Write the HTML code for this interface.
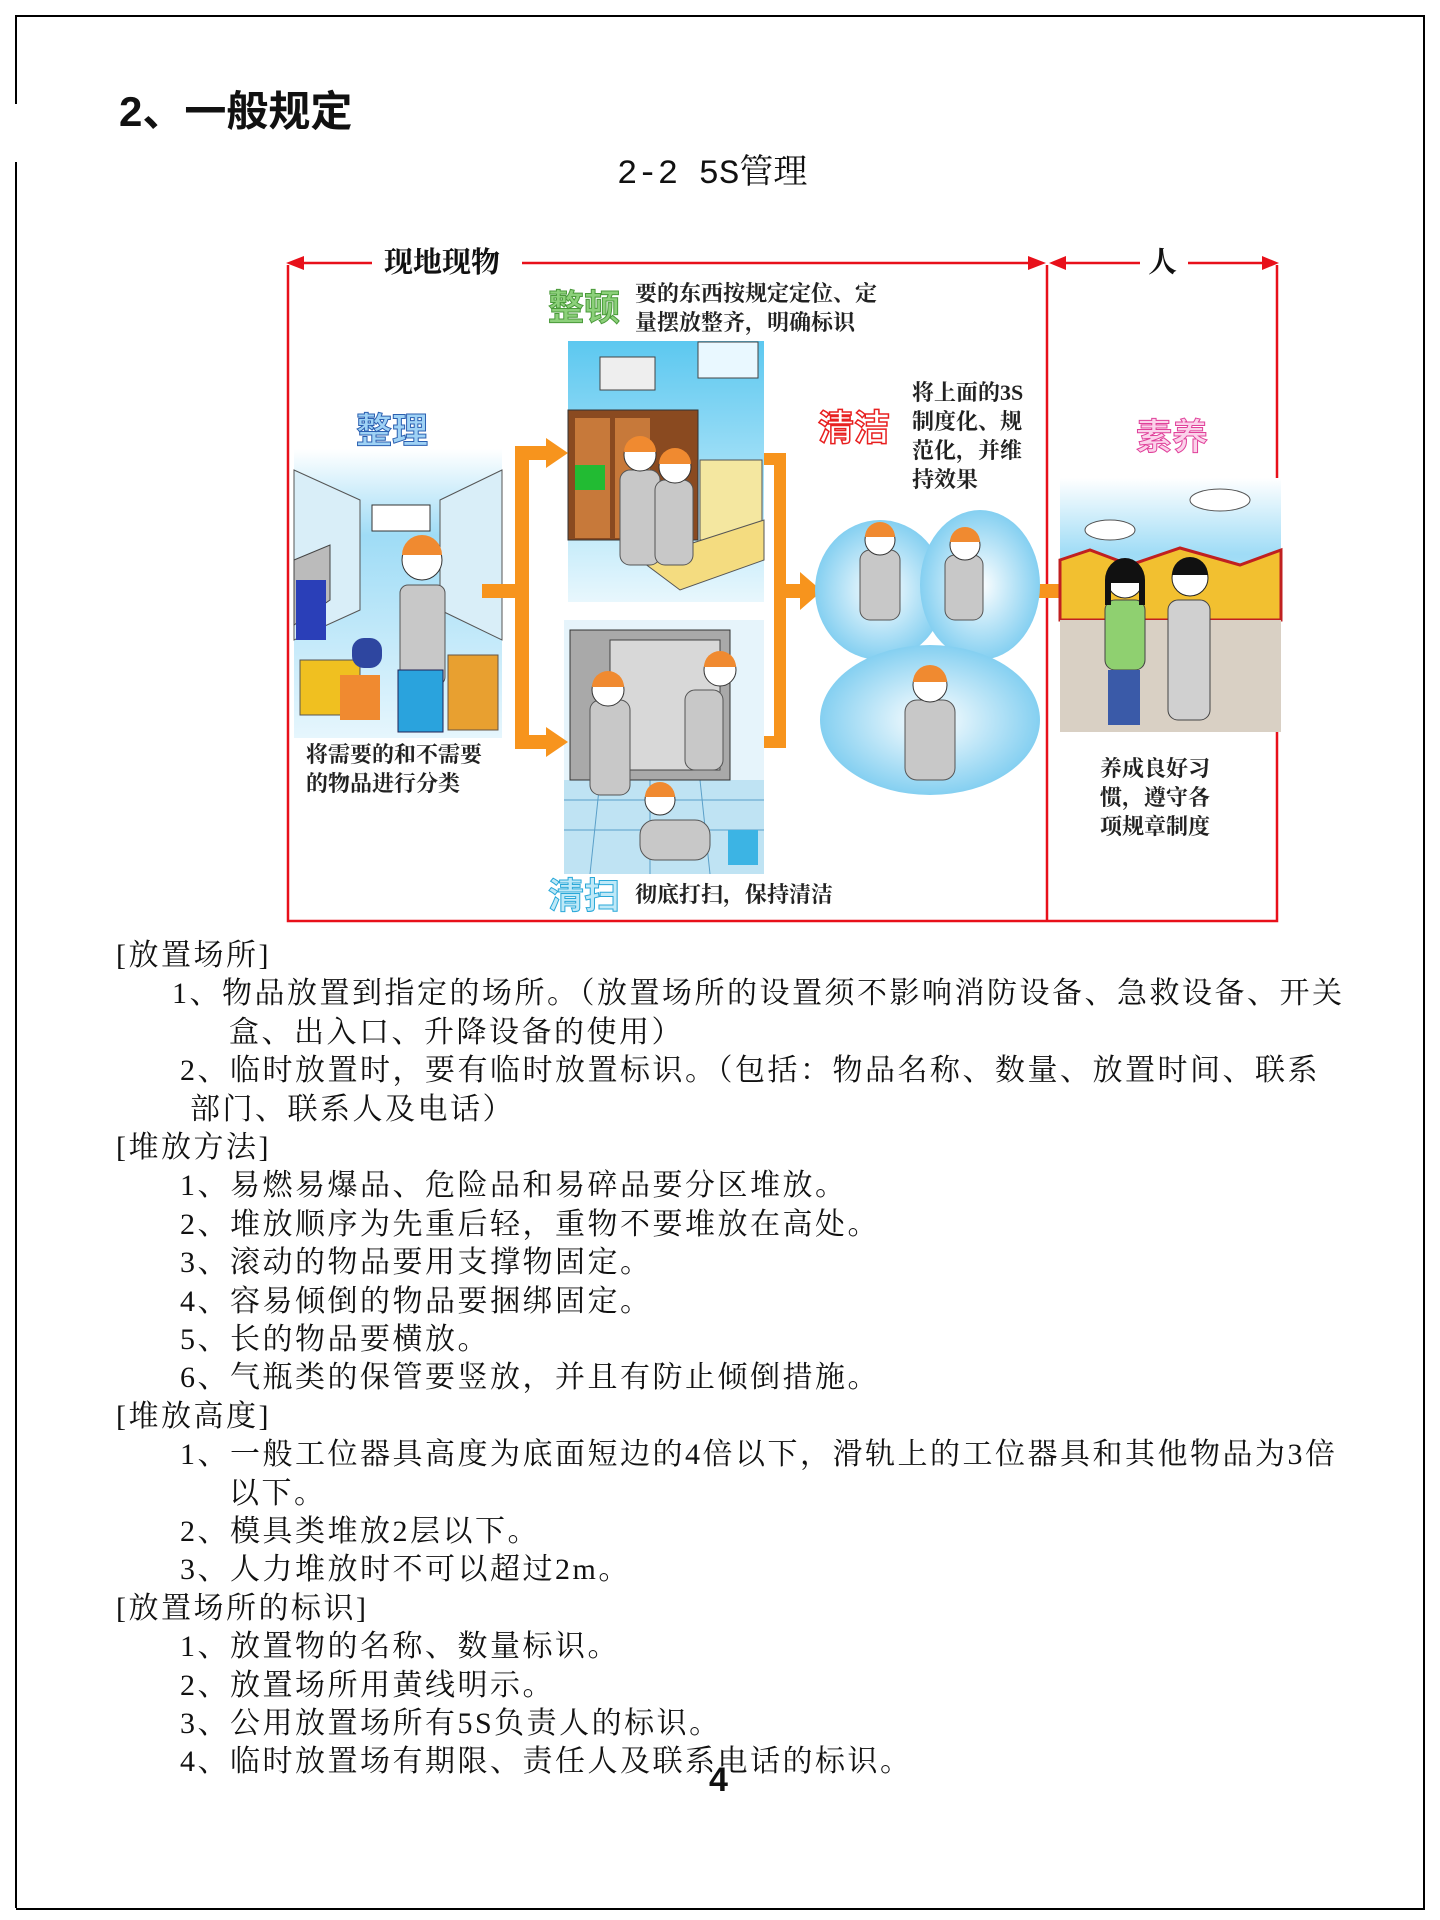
<!DOCTYPE html>
<html><head><meta charset="utf-8">
<style>
html,body{margin:0;padding:0;background:#fff;}
body{width:1440px;height:1920px;position:relative;overflow:hidden;font-family:"Liberation Serif","Noto Serif CJK SC",serif;color:#111;}
.t{position:absolute;font-size:30px;line-height:38px;letter-spacing:2.5px;white-space:nowrap;transform:translateY(-19px);}
.b{position:absolute;font-family:"Liberation Sans","Noto Sans CJK SC",sans-serif;font-weight:bold;white-space:nowrap;}
.s{position:absolute;font-family:"Liberation Serif","Noto Serif CJK SC",serif;font-weight:bold;font-size:22px;line-height:29px;white-space:nowrap;color:#222;}
</style></head><body>
<div style="position:absolute;left:16px;top:15px;width:1407px;height:1891px;border:2px solid #000;border-left:none;"></div>
<div style="position:absolute;left:15px;top:15px;width:2px;height:89px;background:#000"></div>
<div style="position:absolute;left:15px;top:162px;width:2px;height:1746px;background:#000"></div>

<div class="b" style="left:119px;top:87px;font-size:42px;line-height:50px;">2、一般规定</div>
<div style="position:absolute;left:617px;top:149px;font-size:34px;line-height:40px;white-space:nowrap;font-family:'Liberation Mono','Noto Serif CJK SC',monospace;">2-2 5S<span style="font-family:'Noto Serif CJK SC',serif;">管理</span></div>

<svg style="position:absolute;left:0;top:0" width="1440" height="1000">
 <defs>
  <linearGradient id="sky" x1="0" y1="0" x2="0" y2="1"><stop offset="0" stop-color="#5cc8f0"/><stop offset="1" stop-color="#e8f7fd"/></linearGradient>
  <linearGradient id="sky2" x1="0" y1="0" x2="0" y2="1"><stop offset="0" stop-color="#fff"/><stop offset="0.3" stop-color="#9fdcf6"/><stop offset="1" stop-color="#e6f6fd"/></linearGradient>
  <radialGradient id="cl" cx="0.5" cy="0.5" r="0.6"><stop offset="0" stop-color="#fff"/><stop offset="1" stop-color="#6cc6ee"/></radialGradient>
 </defs>
 <g stroke="#e8101a" stroke-width="2.5" fill="none">
  <polyline points="288,265 288,921 1277,921 1277,265"/>
  <line x1="1047" y1="265" x2="1047" y2="921"/>
  <line x1="300" y1="263" x2="372" y2="263"/>
  <line x1="522" y1="263" x2="1030" y2="263"/>
  <line x1="1062" y1="263" x2="1140" y2="263"/>
  <line x1="1188" y1="263" x2="1265" y2="263"/>
 </g>
 <g fill="#e8101a">
  <polygon points="286,263 304,256 304,270"/>
  <polygon points="1046,263 1028,256 1028,270"/>
  <polygon points="1049,263 1066,256 1066,270"/>
  <polygon points="1279,263 1262,256 1262,270"/>
 </g>
 <rect x="294" y="449" width="208" height="289" fill="url(#sky2)"/>
 <polygon points="294,470 360,500 360,610 294,640" fill="#d9eef8" stroke="#555"/>
 <polygon points="502,470 440,500 440,610 502,640" fill="#d9eef8" stroke="#555"/>
 <rect x="372" y="505" width="58" height="26" fill="#fff" stroke="#333"/>
 <polygon points="294,560 330,545 330,600 294,625" fill="#bbb" stroke="#444"/>
 <rect x="296" y="580" width="30" height="60" fill="#2a3fb8"/>
 <rect x="400" y="585" width="45" height="100" rx="8" fill="#c8c8c8" stroke="#555"/>
 <circle cx="422" cy="560" r="20" fill="#fff" stroke="#333"/>
 <path d="M402,555 a20,20 0 0 1 40,0 z" fill="#f08a30"/>
 <rect x="300" y="660" width="60" height="55" fill="#f0c020" stroke="#555"/>
 <rect x="340" y="675" width="40" height="45" fill="#f08a30"/>
 <rect x="398" y="670" width="45" height="62" fill="#2aa3dd" stroke="#225"/>
 <rect x="448" y="655" width="50" height="75" fill="#e8a030" stroke="#654"/>
 <rect x="352" y="638" width="30" height="30" rx="12" fill="#2e46a0"/>
 <rect x="568" y="341" width="196" height="261" fill="url(#sky)"/>
 <rect x="600" y="357" width="55" height="33" fill="#eee" stroke="#444"/>
 <rect x="698" y="342" width="60" height="36" fill="#e9f8ff" stroke="#444"/>
 <rect x="568" y="410" width="130" height="130" fill="#8a4a20" stroke="#333"/>
 <rect x="575" y="418" width="35" height="120" fill="#c7793a"/>
 <rect x="615" y="418" width="35" height="120" fill="#c7793a"/>
 <rect x="575" y="465" width="30" height="25" fill="#22bb33"/>
 <rect x="700" y="460" width="62" height="80" fill="#f4e7a0" stroke="#555"/>
 <polygon points="640,560 764,520 764,560 680,590" fill="#f4dc80" stroke="#555"/>
 <rect x="620" y="470" width="40" height="95" rx="10" fill="#c8c8c8" stroke="#555"/>
 <rect x="655" y="480" width="38" height="85" rx="10" fill="#c8c8c8" stroke="#555"/>
 <circle cx="640" cy="455" r="16" fill="#fff" stroke="#333"/><path d="M624,452 a16,16 0 0 1 32,0 z" fill="#f08a30"/>
 <circle cx="675" cy="467" r="16" fill="#fff" stroke="#333"/><path d="M659,464 a16,16 0 0 1 32,0 z" fill="#f08a30"/>
 <rect x="564" y="620" width="200" height="254" fill="#e6f4fb"/>
 <path d="M564,780 L764,780 L764,874 L564,874z" fill="#bfe3f3"/>
 <g stroke="#5a9fc8" stroke-width="1"><line x1="564" y1="800" x2="764" y2="800"/><line x1="564" y1="830" x2="764" y2="830"/><line x1="600" y1="780" x2="590" y2="874"/><line x1="650" y1="780" x2="650" y2="874"/><line x1="700" y1="780" x2="710" y2="874"/></g>
 <rect x="570" y="630" width="160" height="150" fill="#a9a9a9" stroke="#333"/>
 <rect x="610" y="640" width="110" height="130" fill="#d8d8d8" stroke="#444"/>
 <rect x="590" y="700" width="40" height="95" rx="10" fill="#c8c8c8" stroke="#555"/>
 <circle cx="608" cy="690" r="16" fill="#fff" stroke="#333"/><path d="M592,687 a16,16 0 0 1 32,0 z" fill="#f08a30"/>
 <rect x="685" y="690" width="38" height="80" rx="10" fill="#c8c8c8" stroke="#555"/>
 <circle cx="720" cy="670" r="16" fill="#fff" stroke="#333"/><path d="M704,667 a16,16 0 0 1 32,0 z" fill="#f08a30"/>
 <rect x="640" y="820" width="70" height="40" rx="15" fill="#c8c8c8" stroke="#555"/>
 <circle cx="660" cy="800" r="15" fill="#fff" stroke="#333"/><path d="M645,797 a15,15 0 0 1 30,0 z" fill="#f08a30"/>
 <rect x="728" y="830" width="30" height="35" fill="#3cb4e4"/>
 <g fill="#f7941d">
  <rect x="482" y="584" width="40" height="14"/>
  <rect x="515" y="454" width="14" height="294"/>
  <rect x="515" y="446" width="35" height="14"/><polygon points="546,438 568,453 546,468"/>
  <rect x="515" y="735" width="35" height="14"/><polygon points="546,727 568,742 546,757"/>
  <rect x="764" y="453" width="20" height="12"/><rect x="774" y="453" width="12" height="295"/><rect x="764" y="736" width="22" height="12"/>
  <rect x="784" y="584" width="20" height="14"/><polygon points="800,572 822,591 800,610"/>
  <rect x="1030" y="584" width="35" height="14"/><polygon points="1060,572 1086,591 1060,610"/>
 </g>
 <g fill="url(#cl)">
  <ellipse cx="880" cy="590" rx="65" ry="70"/><ellipse cx="980" cy="585" rx="60" ry="75"/>
  <ellipse cx="930" cy="720" rx="110" ry="75"/>
 </g>
 <rect x="860" y="550" width="40" height="70" rx="10" fill="#c8c8c8" stroke="#555"/>
 <circle cx="880" cy="540" r="15" fill="#fff" stroke="#333"/><path d="M865,537 a15,15 0 0 1 30,0 z" fill="#f08a30"/>
 <rect x="945" y="555" width="38" height="65" rx="10" fill="#c8c8c8" stroke="#555"/>
 <circle cx="965" cy="545" r="15" fill="#fff" stroke="#333"/><path d="M950,542 a15,15 0 0 1 30,0 z" fill="#f08a30"/>
 <rect x="905" y="700" width="50" height="80" rx="12" fill="#c8c8c8" stroke="#555"/>
 <circle cx="930" cy="685" r="17" fill="#fff" stroke="#333"/><path d="M913,682 a17,17 0 0 1 34,0 z" fill="#f08a30"/>
 <rect x="1060" y="478" width="221" height="254" fill="url(#sky2)"/>
 <ellipse cx="1110" cy="530" rx="25" ry="10" fill="#fff" stroke="#555"/>
 <ellipse cx="1220" cy="500" rx="30" ry="11" fill="#fff" stroke="#555"/>
 <polygon points="1060,560 1090,550 1130,565 1180,548 1240,565 1281,550 1281,620 1060,620" fill="#f2c030" stroke="#c02020" stroke-width="3"/>
 <rect x="1060" y="620" width="221" height="112" fill="#d9d0c4"/>
 <rect x="1105" y="600" width="40" height="70" rx="10" fill="#8fd070" stroke="#444"/>
 <rect x="1108" y="670" width="32" height="55" fill="#3a5aa8"/>
 <circle cx="1125" cy="580" r="18" fill="#fff" stroke="#222"/><path d="M1105,580 a20,22 0 0 1 40,0 l0,25 -6,0 0,-22 -28,0 0,22 -6,0z" fill="#111"/>
 <rect x="1168" y="600" width="42" height="120" rx="10" fill="#d0d0d0" stroke="#444"/>
 <circle cx="1190" cy="578" r="18" fill="#fff" stroke="#222"/><path d="M1172,575 a18,18 0 0 1 36,0z" fill="#111"/>
</svg>

<div class="b" style="left:384px;top:246px;font-size:29px;line-height:34px;color:#111;font-family:'Liberation Serif','Noto Serif CJK SC',serif;">现地现物</div>
<div class="b" style="left:1148px;top:246px;font-size:29px;line-height:34px;color:#111;font-family:'Liberation Serif','Noto Serif CJK SC',serif;">人</div>

<div class="b" style="left:548px;top:288px;font-size:36px;line-height:40px;color:#8cd07a;-webkit-text-stroke:1px #4a9a3a;">整顿</div>
<div class="s" style="left:635px;top:279px;">要的东西按规定定位、定<br>量摆放整齐，明确标识</div>

<div class="b" style="left:356px;top:411px;font-size:36px;line-height:40px;color:#9fd2f5;-webkit-text-stroke:1px #2a5fb0;">整理</div>
<div class="s" style="left:306px;top:740px;">将需要的和不需要<br>的物品进行分类</div>

<div class="b" style="left:818px;top:408px;font-size:36px;line-height:40px;color:#fff;-webkit-text-stroke:1.5px #e82020;">清洁</div>
<div class="s" style="left:912px;top:378px;line-height:29px;">将上面的3S<br>制度化、规<br>范化，并维<br>持效果</div>

<div class="b" style="left:548px;top:876px;font-size:36px;line-height:40px;color:#bfe9f8;-webkit-text-stroke:1px #2aa8d8;">清扫</div>
<div class="s" style="left:635px;top:880px;">彻底打扫，保持清洁</div>

<div class="b" style="left:1136px;top:417px;font-size:36px;line-height:40px;color:#fbd2ea;-webkit-text-stroke:1px #e0409a;">素养</div>
<div class="s" style="left:1100px;top:754px;">养成良好习<br>惯，遵守各<br>项规章制度</div>

<div class="t" style="left:116px;top:956px;">[放置场所]</div>
<div class="t" style="left:172px;top:994px;">1、物品放置到指定的场所。（放置场所的设置须不影响消防设备、急救设备、开关</div>
<div class="t" style="left:229px;top:1033px;">盒、出入口、升降设备的使用）</div>
<div class="t" style="left:180px;top:1071px;">2、临时放置时，要有临时放置标识。（包括：物品名称、数量、放置时间、联系</div>
<div class="t" style="left:190px;top:1110px;">部门、联系人及电话）</div>
<div class="t" style="left:116px;top:1148px;">[堆放方法]</div>
<div class="t" style="left:180px;top:1186px;">1、易燃易爆品、危险品和易碎品要分区堆放。</div>
<div class="t" style="left:180px;top:1225px;">2、堆放顺序为先重后轻，重物不要堆放在高处。</div>
<div class="t" style="left:180px;top:1263px;">3、滚动的物品要用支撑物固定。</div>
<div class="t" style="left:180px;top:1302px;">4、容易倾倒的物品要捆绑固定。</div>
<div class="t" style="left:180px;top:1340px;">5、长的物品要横放。</div>
<div class="t" style="left:180px;top:1378px;">6、气瓶类的保管要竖放，并且有防止倾倒措施。</div>
<div class="t" style="left:116px;top:1417px;">[堆放高度]</div>
<div class="t" style="left:180px;top:1455px;">1、一般工位器具高度为底面短边的4倍以下，滑轨上的工位器具和其他物品为3倍</div>
<div class="t" style="left:229px;top:1494px;">以下。</div>
<div class="t" style="left:180px;top:1532px;">2、模具类堆放2层以下。</div>
<div class="t" style="left:180px;top:1570px;">3、人力堆放时不可以超过2m。</div>
<div class="t" style="left:116px;top:1609px;">[放置场所的标识]</div>
<div class="t" style="left:180px;top:1647px;">1、放置物的名称、数量标识。</div>
<div class="t" style="left:180px;top:1686px;">2、放置场所用黄线明示。</div>
<div class="t" style="left:180px;top:1724px;">3、公用放置场所有5S负责人的标识。</div>
<div class="t" style="left:180px;top:1762px;">4、临时放置场有期限、责任人及联系电话的标识。</div>
<div class="b" style="left:709px;top:1760px;font-size:34px;line-height:40px;">4</div>
</body></html>
